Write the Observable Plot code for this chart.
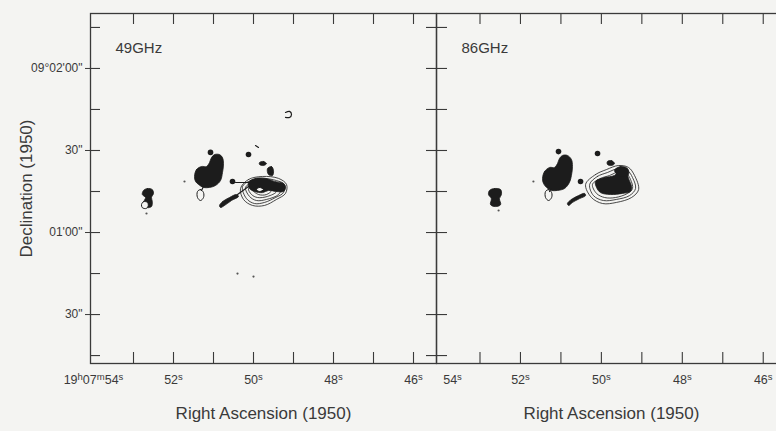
<!DOCTYPE html>
<html><head><meta charset="utf-8">
<script src="https://cdn.jsdelivr.net/npm/d3@7"></script>
<script src="https://cdn.jsdelivr.net/npm/@observablehq/plot@0.6"></script>
<style>
html,body{margin:0;padding:0;background:#f4f4f2;overflow:hidden;}
#wrap{position:relative;width:776px;height:431px;overflow:hidden;}
#wrap svg{position:absolute;top:0;}
</style></head><body><div id="wrap"></div>
<script>
// ---- axes (RA in seconds of 19h07m, Dec in arcsec above 09°00'00") ----
const raDomain = [54.075, 45.425];
const decDomain = [12.1, 140.1];
const raTicks = [53, 52, 51, 50, 49, 48, 47, 46];
const raLabelAt = [54, 52, 50, 48, 46];
const raLabels49 = ["19h07m54s", "52s", "50s", "48s", "46s"];
const raLabels86 = ["54s", "52s", "50s", "48s", "46s"];
const decTicks = [15, 30, 45, 60, 75, 90, 105, 120, 135];
const decLabelAt = [30, 60, 90, 120];
const decLabels = ['30"', "01'00\"", '30"', "09°02'00\""];
const panelTitles = ["49GHz", "86GHz"];
const xTitle = "Right Ascension (1950)";
const yTitle = "Declination (1950)";

// ---- 49 GHz map ----
const g49West = [[52.75,75.4],[52.65,76.1],[52.53,75.7],[52.50,74.3],[52.55,72.8],[52.53,71.3],[52.55,69.5],[52.65,69.1],[52.75,69.9],[52.73,71.7],[52.70,72.8],[52.78,73.9]];
const g49Main = [[51.475,80.5],[51.425,83.05],[51.30,84.15],[51.175,84.15],[51.10,85.6],[51.05,87.4],[50.975,88.5],[50.85,88.5],[50.775,87.4],[50.75,85.2],[50.775,81.95],[50.825,79.0],[50.95,77.2],[51.10,76.5],[51.25,76.5],[51.375,77.6],[51.45,78.7]];
const g49KnotA = [[49.85,85.6],[49.75,86.0],[49.675,85.2],[49.75,84.5],[49.85,84.9]];
const g49KnotB = [[49.65,83.4],[49.55,84.15],[49.50,82.7],[49.525,80.85],[49.625,81.2]];
const g49Core = [[50.125,78.3],[49.95,79.8],[49.70,79.8],[49.475,78.7],[49.25,77.9],[49.20,76.5],[49.25,75.0],[49.425,75.0],[49.625,75.4],[49.775,74.6],[49.975,75.0],[50.10,76.1]];
const g49Tail = [[50.85,69.9],[50.775,71.3],[50.60,72.8],[50.425,73.9],[50.375,73.2],[50.55,71.7],[50.725,69.9],[50.825,69.15]];
const r49West = [[52.80,70.2],[52.75,71.3],[52.65,71.0],[52.63,69.9],[52.68,68.8],[52.78,69.1]];
const r49Main = [[51.40,75.0],[51.325,75.7],[51.25,74.6],[51.25,72.8],[51.325,71.7],[51.40,72.8]];
const r49Core = [[49.925,75.7],[49.85,76.5],[49.75,75.7],[49.85,75.0]];
const c49L0 = [[50.325,76.1],[50.125,79.4],[49.775,80.5],[49.375,79.8],[49.175,77.6],[49.20,74.3],[49.425,72.1],[49.725,69.9],[50.025,69.9],[50.25,72.1]];
const c49L1 = [[50.275,76.8],[50.075,79.0],[49.775,79.8],[49.425,79.0],[49.225,77.6],[49.25,74.6],[49.45,72.8],[49.725,71.0],[49.975,70.6],[50.175,72.4]];
const c49L2 = [[50.20,76.5],[50.025,78.3],[49.75,78.7],[49.425,77.9],[49.30,76.5],[49.375,73.9],[49.675,72.1],[49.925,71.7],[50.10,73.2]];
const c49L3 = [[50.125,76.1],[49.95,77.6],[49.725,77.6],[49.475,76.8],[49.425,75.0],[49.65,73.2],[49.90,72.8],[50.05,73.9]];
const c49L4 = [[50.025,75.7],[49.875,76.8],[49.675,76.5],[49.55,75.4],[49.675,73.9],[49.875,73.9]];
const l49Dash = [[49.95,91.8],[49.875,91.1]];
const l49Link = [[50.45,78.3],[50.075,78.3]];
const l49TailLine = [[50.40,73.9],[50.125,76.8]];
const l49Arc = [[49.20,103.9],[49.10,104.3],[49.05,103.2],[49.10,102.1],[49.20,102.1]];
const l49Stem = [[51.25,76.8],[51.30,75.4]];
const knots49 = [[51.075,89.3],[50.125,88.54],[50.525,78.66]];
const specks49 = [[52.675,66.95],[51.725,78.66],[50.40,45.0],[50.0,43.9]];

// ---- 86 GHz map ----
const g86West = [[52.765,75.4],[52.64,76.1],[52.49,75.7],[52.47,73.9],[52.52,72.4],[52.49,70.2],[52.62,69.5],[52.74,70.2],[52.72,72.4],[52.79,73.9]];
const g86Main = [[51.455,79.8],[51.405,82.3],[51.28,83.8],[51.16,83.8],[51.085,85.2],[51.035,87.1],[50.96,88.2],[50.84,88.2],[50.74,86.7],[50.715,84.2],[50.74,80.9],[50.79,78.3],[50.91,76.1],[51.085,75.4],[51.23,75.4],[51.355,76.5],[51.43,77.9]];
const g86Knot = [[49.85,86.0],[49.75,86.3],[49.675,85.2],[49.75,84.5],[49.85,84.9]];
const g86Core = [[50.145,78.7],[49.92,80.1],[49.68,80.85],[49.53,82.7],[49.38,81.95],[49.33,79.8],[49.255,76.8],[49.28,75.0],[49.48,74.3],[49.775,73.9],[50.02,74.6],[50.12,76.5]];
const g86Patch = [[49.676,82.7],[49.527,84.15],[49.354,83.4],[49.33,81.2],[49.527,80.5]];
const g86Tail = [[50.84,70.6],[50.74,72.1],[50.565,73.5],[50.415,74.3],[50.39,73.5],[50.54,72.4],[50.715,71.0],[50.81,69.9]];
const r86Main = [[51.38,75.0],[51.305,75.7],[51.23,74.6],[51.23,72.8],[51.305,71.7],[51.38,72.8]];
const c86L1 = [[50.39,77.6],[50.145,81.2],[49.87,83.05],[49.58,84.5],[49.33,83.8],[49.18,80.85],[49.08,75.7],[49.255,72.8],[49.63,71.0],[49.97,70.6],[50.245,72.8]];
const c86L2 = [[50.29,77.6],[50.10,80.5],[49.85,81.95],[49.58,83.4],[49.355,82.7],[49.23,80.1],[49.155,76.1],[49.305,73.5],[49.63,72.1],[49.95,71.7],[50.195,73.5]];
const c86L3 = [[50.22,77.6],[50.02,79.8],[49.80,80.85],[49.55,82.3],[49.38,81.6],[49.28,79.4],[49.23,76.1],[49.355,74.3],[49.65,72.8],[49.92,72.8],[50.12,74.3]];
const l86Stem = [[51.25,75.9],[51.28,75.0]];
const knots86 = [[51.06,89.6],[50.095,88.9],[50.515,78.66]];
const specks86 = [[52.54,68.05],[51.68,78.66]];

const maps = [
  {title: panelTitles[0], raLabels: raLabels49,
   filled: [g49West, g49Main, g49KnotA, g49KnotB, g49Core, g49Tail],
   rings: [r49West, r49Main, r49Core],
   contours: [c49L0, c49L1, c49L2, c49L3, c49L4],
   lines: [l49Dash, l49Link, l49TailLine, l49Arc, l49Stem],
   knots: knots49, specks: specks49},
  {title: panelTitles[1], raLabels: raLabels86,
   filled: [g86West, g86Main, g86Knot, g86Core, g86Patch, g86Tail],
   rings: [r86Main],
   contours: [c86L1, c86L2, c86L3],
   lines: [l86Stem],
   knots: knots86, specks: specks86}
];

const ink = "#1c1c1c", axisInk = "#3a3a3a";
const rows = (shapes) => shapes.flatMap((pts, id) => pts.map(([x, y]) => ({x, y, id})));

function panel(m, i) {
  const first = i === 0;
  const mL = first ? 90 : 10, fw = first ? 346 : 350, mR = first ? 1 : 2;
  const mT = 13, mB = 68, H = 431, fh = H - mT - mB;
  const raText = {frameAnchor: "bottom", dy: 20, fontSize: 12.5, fill: axisInk, style: "letter-spacing:0.8px"};
  const marks = [
    Plot.line(rows(m.contours), {x: "x", y: "y", z: "id", curve: "catmull-rom-closed", stroke: ink, strokeWidth: 0.8}),
    Plot.line(rows(m.filled), {x: "x", y: "y", z: "id", curve: "catmull-rom-closed", fill: ink, stroke: ink, strokeWidth: 0.8}),
    Plot.line(rows(m.rings), {x: "x", y: "y", z: "id", curve: "catmull-rom-closed", fill: "#f4f4f2", stroke: ink, strokeWidth: 1}),
    Plot.line(rows(m.lines), {x: "x", y: "y", z: "id", curve: "catmull-rom", stroke: ink, strokeWidth: 1.2}),
    Plot.dot(m.knots, {x: d => d[0], y: d => d[1], r: 2.8, fill: ink}),
    Plot.dot(m.specks, {x: d => d[0], y: d => d[1], r: 1.1, fill: "#555"}),
    // inward ticks on all four sides
    Plot.tickX(raTicks, {x: d => d, insetBottom: fh - 11, stroke: axisInk, strokeWidth: 1.1}),
    Plot.tickX(raTicks, {x: d => d, insetTop: fh - 11, stroke: axisInk, strokeWidth: 1.1}),
    Plot.tickY(decTicks, {y: d => d, insetRight: fw - (first ? 10 : 11), stroke: axisInk, strokeWidth: 1.1}),
    Plot.tickY(decTicks, {y: d => d, insetLeft: fw - 10, stroke: axisInk, strokeWidth: 1.1}),
    Plot.frame({stroke: axisInk, strokeWidth: 1.3}),
    Plot.text([m.title], {frameAnchor: "top-left", dx: 25, dy: 29, textAnchor: "start", fontSize: 15, fill: axisInk}),
    Plot.text(raLabelAt.slice(first ? 0 : 1), {x: d => d, text: (d, j) => m.raLabels[j + (first ? 0 : 1)], ...raText}),
    Plot.text([xTitle], {frameAnchor: "bottom", dy: 55, fontSize: 17, fill: axisInk})
  ];
  if (!first) {
    marks.push(Plot.text([raLabelAt[0]], {x: d => d, text: () => m.raLabels[0], dx: 13, ...raText}));
    marks.push(Plot.tickY(decTicks, {y: d => d, insetRight: fw, dx: -10, stroke: axisInk, strokeWidth: 1.1}));
  } else {
    marks.push(Plot.axisY(decLabelAt, {anchor: "left", tickSize: 5, tickPadding: 3, tickFormat: (d) => decLabels[decLabelAt.indexOf(d)], label: null, fontSize: 12, stroke: axisInk, fill: axisInk}));
    marks.push(Plot.text([yTitle], {frameAnchor: "left", dx: -64, rotate: -90, textAnchor: "middle", fontSize: 17, fill: axisInk}));
  }
  const svg = Plot.plot({
    width: mL + fw + mR, height: H,
    marginLeft: mL, marginRight: mR, marginTop: mT, marginBottom: mB,
    x: {domain: raDomain, axis: null},
    y: {domain: decDomain, axis: null},
    style: {background: "transparent", fontFamily: "Liberation Sans, Arial, Helvetica, sans-serif", fontSize: "11px", overflow: "visible", color: axisInk, maxWidth: "none"},
    marks
  });
  svg.style.left = (first ? 0 : 426) + "px";
  // superscripts for h / m / s in RA labels
  svg.querySelectorAll("text").forEach(t => {
    const s = t.textContent;
    if (!/^(\d+[hms])+$/.test(s)) return;
    t.textContent = "";
    let up = false;
    for (const p of s.match(/\d+|[hms]/g)) {
      const sup = /[hms]/.test(p);
      const ts = document.createElementNS("http://www.w3.org/2000/svg", "tspan");
      if (sup && !up) ts.setAttribute("dy", "-4");
      if (!sup && up) ts.setAttribute("dy", "4");
      if (sup) ts.setAttribute("font-size", "9.5");
      ts.textContent = p;
      t.appendChild(ts);
      up = sup;
    }
  });
  return svg;
}

const wrap = document.getElementById("wrap");
maps.forEach((m, i) => wrap.appendChild(panel(m, i)));
</script></body></html>
